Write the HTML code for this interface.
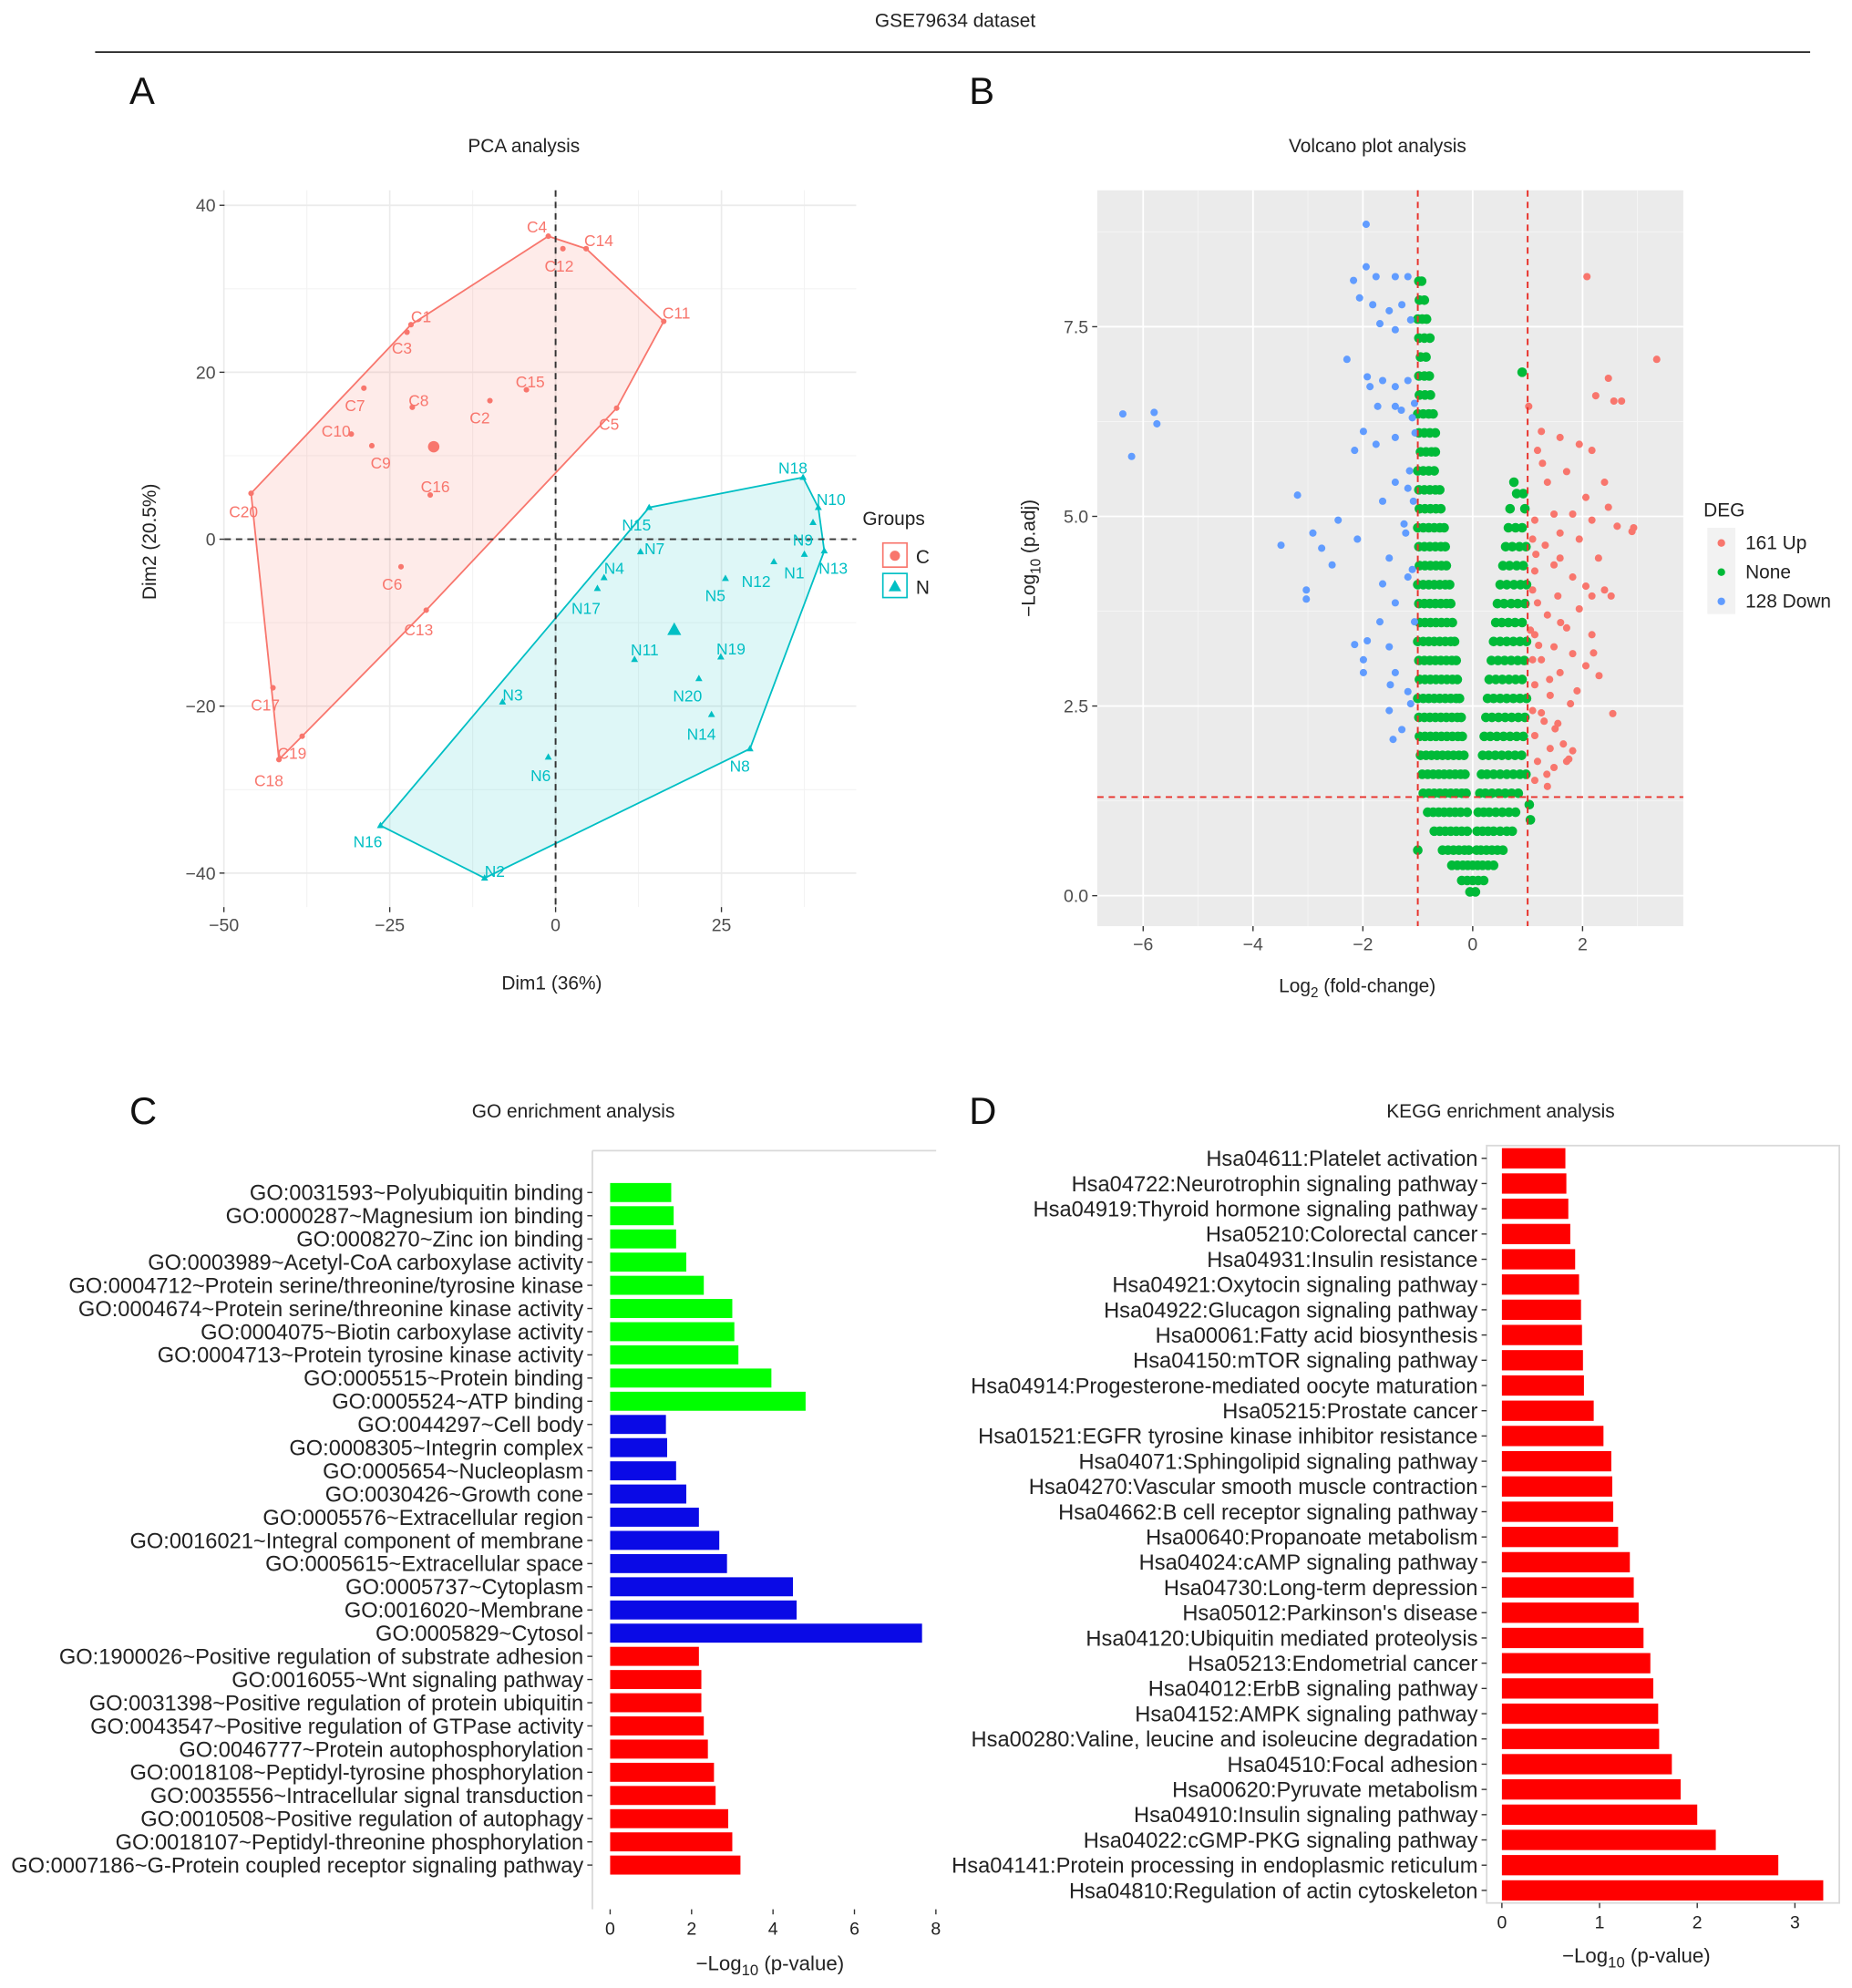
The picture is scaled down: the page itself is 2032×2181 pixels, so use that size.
<!DOCTYPE html>
<html><head><meta charset="utf-8">
<style>
html,body{margin:0;padding:0;background:#fff;}
svg{display:block;font-family:"Liberation Sans",Arial,sans-serif;}
</style></head>
<body>
<svg id="fig" width="2032" height="2181" viewBox="0 0 1460 1567" xmlns="http://www.w3.org/2000/svg">
<text x="753" y="21" font-size="15" text-anchor="middle" fill="#222">GSE79634 dataset</text>
<line x1="75" y1="41" x2="1427" y2="41" stroke="#222" stroke-width="1.3"/>
<text x="102" y="82" font-size="30" fill="#111">A</text>
<text x="764" y="82" font-size="30" fill="#111">B</text>
<text x="102" y="886" font-size="30" fill="#111">C</text>
<text x="764" y="886" font-size="30" fill="#111">D</text>
<g id="pca"></g>
<g id="volcano"></g>
<g id="go"></g>
<g id="kegg"></g>
</svg>
<script>
// ---------- PCA data ----------
const cNames = ["C1","C2","C3","C4","C5","C6","C7","C8","C9","C10","C11","C12","C13","C14","C15","C16","C17","C18","C19","C20"];
const cDim1 = [-21.8,-9.9,-22.4,-1.1,9.2,-23.3,-28.9,-21.6,-27.7,-30.8,16.3,1.1,-19.5,4.6,-4.4,-18.9,-42.6,-41.7,-38.2,-45.9];
const cDim2 = [25.7,16.6,24.8,36.3,15.7,-3.3,18.1,15.8,11.2,12.6,26.1,34.8,-8.5,34.8,17.9,5.3,-17.8,-26.4,-23.6,5.5];
const nNames = ["N1","N2","N3","N4","N5","N6","N7","N8","N9","N10","N11","N12","N13","N14","N15","N16","N17","N18","N19","N20"];
const nDim1 = [37.5,-10.7,-8,7.3,25.6,-1.1,12.8,29.3,38.8,39.6,11.9,32.9,40.5,23.5,14.1,-26.4,6.3,37.3,24.9,21.6];
const nDim2 = [-1.8,-40.6,-19.5,-4.6,-4.7,-26.1,-1.5,-25.1,2,3.8,-14.4,-2.7,-1.4,-21,3.8,-34.3,-5.9,7.4,-14.1,-16.7];
// label placement offsets (layout only)
const cLabDx = [8,-8,-4,-9,-6,-7,-7,5,7,-12,10,-3,-6,10,3,4,-6,-8,-8,-6];
const cLabDy = [-6,14,13,-7,13,14,14,-5,14,-2,-6,14,16,-6,-6,-6,14,17,14,15];
const nLabDx = [-8,8,8,8,-8,-6,11,-8,-8,10,8,-14,7,-8,-10,-10,-9,-8,8,-9];
const nLabDy = [15,-5,-5,-7,14,15,-2,14,14,-6,-7,16,14,16,14,13,16,-7,-6,14];
const pcaXTicks = [-50,-25,0,25];
const pcaYTicks = [-40,-20,0,20,40];

// ---------- Volcano data ----------
const upX = [2.08,3.35,2.47,2.57,2.71,2.24,1.02,1.25,1.59,1.94,1.18,2.17,1.27,1.71,1.36,2.4,2.06,2.93,2.47,1.82,1.48,1.13,2.17,2.63,1.59,1.94,1.32,2.29,1.48,1.13,1.82,2.06,2.4,1.55,1.18,1.94,1.36,1.71,1.13,2.17,1.48,1.82,1.25,1.59,2.06,1.13,1.41,1.78,1.25,1.55,1.13,1.41,1.82,1.18,1.48,1.13,1.36,1.71,2.17,2.52,1.59,1.09,1.09,1.09,1.09,2.9,1.3,1.65,2.3,1.05,1.2,1.4,1.6,1.9,2.2,2.55,1.15,1.35,1.75,1.5];
const upY = [8.16,7.07,6.82,6.52,6.52,6.59,6.45,6.12,6.04,5.95,5.87,5.87,5.7,5.59,5.45,5.45,5.25,4.85,5.12,5.03,5.03,4.95,4.95,4.87,4.78,4.7,4.62,4.45,4.36,4.28,4.2,4.08,4.03,3.95,3.86,3.78,3.7,3.53,3.44,3.44,3.28,3.19,3.11,2.94,3.03,2.78,2.64,2.53,2.41,2.27,2.11,1.94,1.91,1.77,1.69,1.52,1.44,1.77,3.95,3.95,4.45,4.03,4.7,3.11,2.44,4.8,2.3,2.0,2.9,3.5,3.3,2.85,3.6,2.7,3.2,2.4,4.5,1.6,1.8,2.2];
const downX = [-1.94,-1.94,-2.17,-1.76,-1.41,-1.18,-2.06,-1.82,-1.52,-1.29,-1.69,-1.41,-1.13,-2.29,-1.92,-1.87,-1.64,-1.41,-1.18,-1.73,-1.41,-1.06,-1.99,-2.15,-1.76,-1.41,-6.37,-5.8,-5.75,-6.21,-3.19,-1.41,-1.18,-1.64,-2.91,-3.49,-2.75,-2.45,-2.56,-3.03,-3.03,-1.52,-1.64,-1.18,-1.41,-1.06,-1.69,-1.92,-1.52,-2.15,-1.41,-1.18,-1.99,-1.99,-1.52,-1.29,-1.45,-1.13,-1.5,-2.1,-1.22,-1.1,-1.05,-1.3,-1.15,-1.08,-1.25,-1.1];
const downY = [8.85,8.29,8.11,8.16,8.16,8.16,7.88,7.79,7.71,7.79,7.54,7.46,7.59,7.07,6.84,6.71,6.79,6.71,6.79,6.45,6.45,6.49,6.12,5.87,5.95,6.04,6.35,6.37,6.22,5.79,5.28,5.45,5.37,5.2,4.78,4.62,4.58,4.95,4.36,4.03,3.91,4.45,4.11,4.2,3.86,3.61,3.61,3.36,3.28,3.31,2.94,2.69,3.11,2.94,2.44,2.19,2.06,2.53,2.78,4.7,4.78,6.3,6.1,6.4,5.6,5.2,4.9,4.3];
const noneRowY = [8.1,7.85,7.6,7.35,7.1,6.85,6.6,6.35,6.1,5.85,5.6,5.35,5.1,4.85,4.6,4.35,4.1,3.85,3.6,3.35,3.1,2.85,2.6,2.35,2.1,1.85,1.6,1.35,1.1,0.85,0.6,0.4,0.2,0.05,6.9,0.6,1.2,1.0,5.3,5.45];
const noneRowX = [
 [-0.98,-0.93],[-0.97,-0.88],[-1.0,-0.92,-0.84],[-0.98,-0.88,-0.78],[-0.95,-0.85],
 [-0.98,-0.88,-0.79],[-0.97,-0.87,-0.77],[-1.0,-0.9,-0.8,-0.72],[-0.98,-0.88,-0.78,-0.68],
 [-0.95,-0.85,-0.75,-0.68],[-1.0,-0.9,-0.8,-0.7],[-0.98,-0.88,-0.78,-0.68,-0.6],[-0.97,-0.87,-0.77,-0.67,-0.58,0.68,0.95],
 [-1.0,-0.9,-0.8,-0.7,-0.6,-0.52,0.65,0.78,0.9],[-0.98,-0.88,-0.78,-0.68,-0.58,-0.5,0.6,0.72,0.85,0.97],
 [-0.97,-0.87,-0.77,-0.67,-0.57,-0.48,0.55,0.67,0.8,0.92],[-1.0,-0.9,-0.8,-0.7,-0.6,-0.5,-0.42,0.5,0.62,0.75,0.87,0.98],
 [-0.98,-0.88,-0.78,-0.68,-0.58,-0.48,-0.4,0.45,0.57,0.7,0.82,0.95],[-0.97,-0.87,-0.77,-0.67,-0.57,-0.47,-0.37,0.42,0.53,0.65,0.77,0.9],
 [-1.0,-0.9,-0.8,-0.7,-0.6,-0.5,-0.4,-0.33,0.38,0.5,0.62,0.74,0.86,0.98],[-0.98,-0.88,-0.78,-0.68,-0.58,-0.48,-0.38,-0.3,0.34,0.46,0.58,0.7,0.82,0.94],
 [-0.97,-0.87,-0.77,-0.67,-0.57,-0.47,-0.37,-0.28,0.3,0.42,0.54,0.66,0.78,0.9],[-1.0,-0.9,-0.8,-0.7,-0.6,-0.5,-0.4,-0.3,-0.24,0.27,0.38,0.5,0.62,0.74,0.86,0.98],
 [-0.98,-0.88,-0.78,-0.68,-0.58,-0.48,-0.38,-0.28,-0.21,0.24,0.35,0.47,0.59,0.71,0.83,0.95],[-0.97,-0.87,-0.77,-0.67,-0.57,-0.47,-0.37,-0.27,-0.19,0.21,0.32,0.44,0.56,0.68,0.8,0.92],
 [-0.95,-0.85,-0.75,-0.65,-0.55,-0.45,-0.35,-0.25,-0.16,0.18,0.29,0.41,0.53,0.65,0.77,0.89],[-0.92,-0.82,-0.72,-0.62,-0.52,-0.42,-0.32,-0.22,-0.14,0.16,0.26,0.38,0.5,0.62,0.74,0.86,0.97],
 [-0.9,-0.8,-0.7,-0.6,-0.5,-0.4,-0.3,-0.2,-0.12,0.13,0.23,0.35,0.47,0.59,0.71,0.83],[-0.82,-0.72,-0.62,-0.52,-0.42,-0.32,-0.22,-0.1,0.1,0.2,0.3,0.42,0.54,0.66,0.78],
 [-0.7,-0.6,-0.5,-0.4,-0.3,-0.2,-0.1,0.08,0.18,0.28,0.38,0.5,0.62,0.72],[-0.55,-0.45,-0.35,-0.25,-0.15,-0.07,0.07,0.15,0.25,0.35,0.45,0.55],
 [-0.38,-0.28,-0.18,-0.09,0,0.09,0.18,0.28,0.38],[-0.2,-0.1,0,0.1,0.2],[-0.05,0.05],
 [0.9],[-1.0],[1.03],[1.05],[0.8,0.92],[0.75]
];
const volXTicks = [-6,-4,-2,0,2];
const volYTicks = [0,2.5,5,7.5];
const volYTickLabels = ["0.0","2.5","5.0","7.5"];

// ---------- GO data ----------
const goTerms = ["GO:0031593~Polyubiquitin binding","GO:0000287~Magnesium ion binding","GO:0008270~Zinc ion binding","GO:0003989~Acetyl-CoA carboxylase activity","GO:0004712~Protein serine/threonine/tyrosine kinase","GO:0004674~Protein serine/threonine kinase activity","GO:0004075~Biotin carboxylase activity","GO:0004713~Protein tyrosine kinase activity","GO:0005515~Protein binding","GO:0005524~ATP binding","GO:0044297~Cell body","GO:0008305~Integrin complex","GO:0005654~Nucleoplasm","GO:0030426~Growth cone","GO:0005576~Extracellular region","GO:0016021~Integral component of membrane","GO:0005615~Extracellular space","GO:0005737~Cytoplasm","GO:0016020~Membrane","GO:0005829~Cytosol","GO:1900026~Positive regulation of substrate adhesion","GO:0016055~Wnt signaling pathway","GO:0031398~Positive regulation of protein ubiquitin","GO:0043547~Positive regulation of GTPase activity","GO:0046777~Protein autophosphorylation","GO:0018108~Peptidyl-tyrosine phosphorylation","GO:0035556~Intracellular signal transduction","GO:0010508~Positive regulation of autophagy","GO:0018107~Peptidyl-threonine phosphorylation","GO:0007186~G-Protein coupled receptor signaling pathway"];
const goValues = [1.5,1.56,1.62,1.87,2.3,3.0,3.05,3.15,3.96,4.8,1.37,1.4,1.62,1.87,2.18,2.68,2.87,4.49,4.58,7.66,2.18,2.24,2.24,2.3,2.4,2.55,2.59,2.9,3.0,3.2];
const goCategory = ["MF","MF","MF","MF","MF","MF","MF","MF","MF","MF","CC","CC","CC","CC","CC","CC","CC","CC","CC","CC","BP","BP","BP","BP","BP","BP","BP","BP","BP","BP"];
const goTicks = [0,2,4,6,8];

// ---------- KEGG data ----------
const keggTerms = ["Hsa04611:Platelet activation","Hsa04722:Neurotrophin signaling pathway","Hsa04919:Thyroid hormone signaling pathway","Hsa05210:Colorectal cancer","Hsa04931:Insulin resistance","Hsa04921:Oxytocin signaling pathway","Hsa04922:Glucagon signaling pathway","Hsa00061:Fatty acid biosynthesis","Hsa04150:mTOR signaling pathway","Hsa04914:Progesterone-mediated oocyte maturation","Hsa05215:Prostate cancer","Hsa01521:EGFR tyrosine kinase inhibitor resistance","Hsa04071:Sphingolipid signaling pathway","Hsa04270:Vascular smooth muscle contraction","Hsa04662:B cell receptor signaling pathway","Hsa00640:Propanoate metabolism","Hsa04024:cAMP signaling pathway","Hsa04730:Long-term depression","Hsa05012:Parkinson's disease","Hsa04120:Ubiquitin mediated proteolysis","Hsa05213:Endometrial cancer","Hsa04012:ErbB signaling pathway","Hsa04152:AMPK signaling pathway","Hsa00280:Valine, leucine and isoleucine degradation","Hsa04510:Focal adhesion","Hsa00620:Pyruvate metabolism","Hsa04910:Insulin signaling pathway","Hsa04022:cGMP-PKG signaling pathway","Hsa04141:Protein processing in endoplasmic reticulum","Hsa04810:Regulation of actin cytoskeleton"];
const keggValues = [0.65,0.66,0.68,0.7,0.75,0.79,0.81,0.82,0.83,0.84,0.94,1.04,1.12,1.13,1.14,1.19,1.31,1.35,1.4,1.45,1.52,1.55,1.6,1.61,1.74,1.83,2.0,2.19,2.83,3.29];
const keggTicks = [0,1,2,3];

const NS = "http://www.w3.org/2000/svg";
function mk(tag, attrs, parent, text){
  const e = document.createElementNS(NS, tag);
  for (const k in attrs) e.setAttribute(k, attrs[k]);
  if (text !== undefined) e.textContent = text;
  parent.appendChild(e);
  return e;
}
const TXT = "#4d4d4d";

// ===== PCA =====
(function(){
  const g = document.getElementById('pca');
  const x = v => 438 + v*5.23;
  const y = v => 425 - v*6.58;
  const L=177, R=675, T=150, B=715;
  let t = mk('text',{x:413,y:120,'font-size':15,'text-anchor':'middle',fill:'#222'},g,'PCA analysis');
  
  
  for (let v=-37.5; v<=40; v+=25){ let l=mk('line',{x1:x(v),x2:x(v),y1:T,y2:B,stroke:'#f3f3f3','stroke-width':0.8},g);
      }
  for (let v=-30; v<=40; v+=20){ let l=mk('line',{x1:L,x2:R,y1:y(v),y2:y(v),stroke:'#f3f3f3','stroke-width':0.8},g);
      }
  pcaXTicks.forEach(v=>{
    let l=mk('line',{x1:x(v),x2:x(v),y1:T,y2:B,stroke:'#ebebeb','stroke-width':1.2},g);
     
    let tk=mk('line',{x1:x(v),x2:x(v),y1:B,y2:B+4,stroke:'#333'},g);
     
    let tl=mk('text',{x:x(v),y:B+19,'font-size':14,'text-anchor':'middle',fill:TXT},g,v<0?'\u2212'+(-v):String(v));
     
  });
  pcaYTicks.forEach(v=>{
    let l=mk('line',{x1:L,x2:R,y1:y(v),y2:y(v),stroke:'#ebebeb','stroke-width':1.2},g);
     
    let tk=mk('line',{x1:L-4,x2:L,y1:y(v),y2:y(v),stroke:'#333'},g);
     
    let tl=mk('text',{x:L-7,y:y(v)+5,'font-size':14,'text-anchor':'end',fill:TXT},g,v<0?'\u2212'+(-v):String(v));
     
  });
  function hull(px,py){
    const p = px.map((v,i)=>[v,py[i]]).sort((a,b)=>a[0]-b[0]||a[1]-b[1]);
    const cr=(o,a,b)=>(a[0]-o[0])*(b[1]-o[1])-(a[1]-o[1])*(b[0]-o[0]);
    const lo=[],up=[];
    for(const q of p){while(lo.length>=2&&cr(lo[lo.length-2],lo[lo.length-1],q)<=0)lo.pop();lo.push(q);}
    for(const q of p.slice().reverse()){while(up.length>=2&&cr(up[up.length-2],up[up.length-1],q)<=0)up.pop();up.push(q);}
    return lo.slice(0,-1).concat(up.slice(0,-1));
  }
  const groups = [
    {names:cNames,dx:cDim1,dy:cDim2,lx:cLabDx,ly:cLabDy,col:'#f8766d',fill:'rgba(248,118,109,0.15)',key:'c'},
    {names:nNames,dx:nDim1,dy:nDim2,lx:nLabDx,ly:nLabDy,col:'#00bfc4',fill:'rgba(0,191,196,0.13)',key:'n'}];
  groups.forEach(G=>{
    const h = hull(G.dx,G.dy);
    let pg = mk('polygon',{points:h.map(q=>x(q[0])+','+y(q[1])).join(' '),fill:G.fill,stroke:G.col,'stroke-width':1.3},g);
    
    
  });
  let d1=mk('line',{x1:x(0),x2:x(0),y1:T,y2:B,stroke:'#333','stroke-width':1.4,'stroke-dasharray':'5,4'},g);
   
  let d2=mk('line',{x1:L,x2:R,y1:y(0),y2:y(0),stroke:'#333','stroke-width':1.4,'stroke-dasharray':'5,4'},g);
   
  groups.forEach(G=>{
    G.names.forEach((nm,i)=>{
      const cx=x(G.dx[i]), cy=y(G.dy[i]);
      let m;
      if(G.key==='c') m=mk('circle',{cx:cx,cy:cy,r:2.2,fill:G.col},g);
      else m=mk('polygon',{points:`${cx},${cy-3} ${cx-2.8},${cy+2} ${cx+2.8},${cy+2}`,fill:G.col},g);
      
      
      let lb=mk('text',{x:cx+G.lx[i],y:cy+G.ly[i]+4,'font-size':12.5,'text-anchor':'middle',fill:G.col},g,nm);
      
      
    });
    const mx=G.dx.reduce((a,b)=>a+b,0)/G.dx.length, my=G.dy.reduce((a,b)=>a+b,0)/G.dy.length;
    let c;
    if(G.key==='c') c=mk('circle',{cx:x(mx),cy:y(my),r:4.5,fill:G.col},g);
    else c=mk('polygon',{points:`${x(mx)},${y(my)-6} ${x(mx)-5.5},${y(my)+4} ${x(mx)+5.5},${y(my)+4}`,fill:G.col},g);
    
    
  });
  let xl=mk('text',{x:435,y:780,'font-size':15,'text-anchor':'middle',fill:'#222'},g,'Dim1 (36%)');
   
  let yl=mk('text',{x:0,y:0,'font-size':15,'text-anchor':'middle',fill:'#222',transform:'translate(123,427) rotate(-90)'},g,'Dim2 (20.5%)');
   
  let lt=mk('text',{x:680,y:414,'font-size':15,fill:'#222'},g,'Groups');
   
  [['C','#f8766d',438],['N','#00bfc4',462]].forEach(a=>{
    let bx=mk('rect',{x:696,y:a[2]-10,width:19,height:19,fill:'#fff',stroke:a[1],'stroke-width':1.2},g);
     
    if(a[0]==='C') mk('circle',{cx:705.5,cy:a[2],r:4,fill:a[1]},g);
    else mk('polygon',{points:`705.5,${a[2]-5} 700.5,${a[2]+4} 710.5,${a[2]+4}`,fill:a[1]},g);
    let tx=mk('text',{x:722,y:a[2]+6,'font-size':15,fill:'#222'},g,a[0]);
     
  });
})();

// ===== Volcano =====
(function(){
  const g = document.getElementById('volcano');
  const x = v => 1161 + v*43.3;
  const y = v => 706 - v*59.8;
  const L=865,R=1327,T=150,B=730;
  let t=mk('text',{x:1086,y:120,'font-size':15,'text-anchor':'middle',fill:'#222'},g,'Volcano plot analysis');
   
  let bg=mk('rect',{x:L,y:T,width:R-L,height:B-T,fill:'#ebebeb'},g);
   
  for(let v=-7;v<=3;v+=2){ if(x(v)>L&&x(v)<R){let l=mk('line',{x1:x(v),x2:x(v),y1:T,y2:B,stroke:'#f5f5f5','stroke-width':0.7},g);
     }}
  for(let v=1.25;v<=9;v+=2.5){let l=mk('line',{x1:L,x2:R,y1:y(v),y2:y(v),stroke:'#f5f5f5','stroke-width':0.7},g);
     }
  volXTicks.forEach(v=>{
    let l=mk('line',{x1:x(v),x2:x(v),y1:T,y2:B,stroke:'#fff','stroke-width':1.3},g);
     
    let tk=mk('line',{x1:x(v),x2:x(v),y1:B,y2:B+4,stroke:'#333'},g);
     
    let tl=mk('text',{x:x(v),y:B+19,'font-size':14,'text-anchor':'middle',fill:TXT},g,v<0?'\u2212'+(-v):String(v));
     
  });
  volYTicks.forEach((v,i)=>{
    let l=mk('line',{x1:L,x2:R,y1:y(v),y2:y(v),stroke:'#fff','stroke-width':1.3},g);
     
    let tk=mk('line',{x1:L-4,x2:L,y1:y(v),y2:y(v),stroke:'#333'},g);
     
    let tl=mk('text',{x:L-7,y:y(v)+5,'font-size':14,'text-anchor':'end',fill:TXT},g,volYTickLabels[i]);
     
  });
  noneRowY.forEach((yv,i)=>{
    noneRowX[i].forEach(xv=>{
      let c=mk('circle',{cx:x(xv),cy:y(yv),r:3.8,fill:'#00ba38'},g);
      
      
    });
  });
  downX.forEach((xv,i)=>{
    let c=mk('circle',{cx:x(xv),cy:y(downY[i]),r:2.9,fill:'#619cff'},g);
    
    
  });
  upX.forEach((xv,i)=>{
    let c=mk('circle',{cx:x(xv),cy:y(upY[i]),r:2.9,fill:'#f8766d'},g);
    
    
  });
  [[-1,'volcano-threshold-fc-left'],[1,'volcano-threshold-fc-right']].forEach(a=>{
    let l=mk('line',{x1:x(a[0]),x2:x(a[0]),y1:T,y2:B,stroke:'#e8312a','stroke-width':1.4,'stroke-dasharray':'5,4'},g);
     
  });
  let hl=mk('line',{x1:L,x2:R,y1:y(1.3),y2:y(1.3),stroke:'#e8312a','stroke-width':1.4,'stroke-dasharray':'5,4'},g);
   
  let xl=mk('text',{x:1070,y:782,'font-size':15,'text-anchor':'middle',fill:'#222'},g);
   
  xl.innerHTML='Log<tspan font-size="11" dy="4">2</tspan><tspan dy="-4"> (fold-change)</tspan>';
  let yl=mk('text',{x:0,y:0,'font-size':15,'text-anchor':'middle',fill:'#222',transform:'translate(816,440) rotate(-90)'},g);
   
  yl.innerHTML='\u2212Log<tspan font-size="11" dy="4">10</tspan><tspan dy="-4"> (p.adj)</tspan>';
  let lt=mk('text',{x:1343,y:407,'font-size':15,fill:'#222'},g,'DEG');
   
  let lbg=mk('rect',{x:1346,y:416,width:22,height:68,fill:'#f2f2f2'},g);
   
  [['161 Up','#f8766d',428,'up'],['None','#00ba38',451,'none'],['128 Down','#619cff',474,'down']].forEach(a=>{
    let c=mk('circle',{cx:1357,cy:a[2],r:3,fill:a[1]},g);
     
    let tx=mk('text',{x:1376,y:a[2]+5,'font-size':15,fill:'#222'},g,a[0]);
     
  });
})();

// ===== GO bars =====
(function(){
  const g=document.getElementById('go');
  const x=v=>481+v*32.1;
  const rowY=i=>940+i*18.28;
  const L=467,R=738,T=907,B=1505;
  let t=mk('text',{x:452,y:881,'font-size':15,'text-anchor':'middle',fill:'#222'},g,'GO enrichment analysis');
   
  let ax=mk('path',{d:`M${L},${T} H${R} M${L},${T} V${B}`,stroke:'#d9d9d9','stroke-width':1.3,fill:'none'},g);
   
  const cols={MF:'#00ff00',CC:'#0a0ae6',BP:'#ff0000'};
  goTerms.forEach((term,i)=>{
    const cy=rowY(i);
    let r=mk('rect',{x:x(0),y:cy-7.5,width:x(goValues[i])-x(0),height:15,fill:cols[goCategory[i]]},g);
    
    
    let tk=mk('line',{x1:L-4,x2:L,y1:cy,y2:cy,stroke:'#333'},g);
     
    let tl=mk('text',{x:L-7,y:cy+6,'font-size':17,'text-anchor':'end',fill:'#222'},g,term);
     
  });
  goTicks.forEach(v=>{
    let tk=mk('line',{x1:x(v),x2:x(v),y1:B,y2:B+4,stroke:'#333'},g);
     
    let tl=mk('text',{x:x(v),y:B+20,'font-size':14,'text-anchor':'middle',fill:'#222'},g,String(v));
     
  });
  let xl=mk('text',{x:607,y:1553,'font-size':16,'text-anchor':'middle',fill:'#222'},g);
   
  xl.innerHTML='\u2212Log<tspan font-size="12" dy="4">10</tspan><tspan dy="-4"> (p-value)</tspan>';
})();

// ===== KEGG bars =====
(function(){
  const g=document.getElementById('kegg');
  const x=v=>1184+v*77;
  const rowY=i=>913+i*19.9;
  const L=1172,R=1450,T=903,B=1500;
  let t=mk('text',{x:1183,y:881,'font-size':15,'text-anchor':'middle',fill:'#222'},g,'KEGG enrichment analysis');
   
  let bx=mk('rect',{x:L,y:T,width:R-L,height:B-T,fill:'none',stroke:'#d9d9d9','stroke-width':1.3},g);
   
  keggTerms.forEach((term,i)=>{
    const cy=rowY(i);
    let r=mk('rect',{x:x(0),y:cy-8,width:x(keggValues[i])-x(0),height:16,fill:'#ff0000'},g);
    
    
    let tk=mk('line',{x1:L-4,x2:L,y1:cy,y2:cy,stroke:'#333'},g);
     
    let tl=mk('text',{x:L-7,y:cy+6,'font-size':17,'text-anchor':'end',fill:'#222'},g,term);
     
  });
  keggTicks.forEach(v=>{
    let tk=mk('line',{x1:x(v),x2:x(v),y1:B,y2:B+4,stroke:'#333'},g);
     
    let tl=mk('text',{x:x(v),y:B+20,'font-size':14,'text-anchor':'middle',fill:'#222'},g,String(v));
     
  });
  let xl=mk('text',{x:1290,y:1547,'font-size':16,'text-anchor':'middle',fill:'#222'},g);
   
  xl.innerHTML='\u2212Log<tspan font-size="12" dy="4">10</tspan><tspan dy="-4"> (p-value)</tspan>';
})();
</script>
</body></html>
